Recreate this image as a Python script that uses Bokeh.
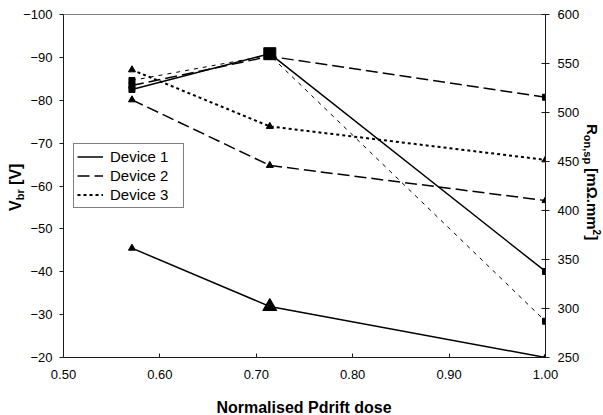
from bokeh.embed import file_html
from bokeh.layouts import column, row
from bokeh.models import (Div, FixedTicker, Legend, LegendItem, LinearAxis,
                          NumeralTickFormatter, Range1d)
from bokeh.plotting import figure
from bokeh.resources import INLINE

# Normalised P-drift dose of the three process splits
dose = [0.571, 0.714, 1.00]

# Breakdown voltage V_br [V] per device (left axis, triangles)
vbr_dev1 = [-45.5, -31.9, -20.0]
vbr_dev2 = [-80.1, -64.8, -56.6]
vbr_dev3 = [-87.1, -73.9, -66.1]

# Specific on-resistance R_on,sp [mOhm.mm2] per device (right axis, squares)
ron_dev1 = [523.5, 560.0, 337.8]
ron_dev2 = [527.6, 557.3, 515.6]
ron_dev3 = [532.7, 558.5, 287.0]

device_names = ["Device 1", "Device 2", "Device 3"]

x_ticks = [0.50, 0.60, 0.70, 0.80, 0.90, 1.00]
vbr_ticks = [-100, -90, -80, -70, -60, -50, -40, -30, -20]
ron_ticks = [250, 300, 350, 400, 450, 500, 550, 600]

# index of the highlighted dose (drawn with enlarged markers for Device 1)
highlight = 1

# ---------------------------------------------------------------- layout
W, H = 603, 415
LEFT_W, RIGHT_W, BOTTOM_H = 18, 19, 25        # title strips around the plot
FRAME_L, FRAME_R, FRAME_T, FRAME_B = 63, 545, 14, 357
X_LO, X_HI = 0.50, 1.00
VBR_BOTTOM, VBR_TOP = -20, -100
RON_BOTTOM, RON_TOP = 250, 600

FONT = "Liberation Sans"

fig_w = W - LEFT_W - RIGHT_W
fig_h = H - BOTTOM_H

p = figure(width=fig_w, height=fig_h,
           x_range=Range1d(X_LO, X_HI),
           y_range=Range1d(VBR_BOTTOM, VBR_TOP),
           output_backend="svg", toolbar_location=None,
           min_border_left=FRAME_L - LEFT_W,
           min_border_right=(W - RIGHT_W) - FRAME_R,
           min_border_top=FRAME_T,
           min_border_bottom=fig_h - FRAME_B)
p.extra_y_ranges = {"ron": Range1d(RON_BOTTOM, RON_TOP)}

p.grid.visible = False
p.outline_line_color = "#808080"
p.outline_line_width = 1
p.background_fill_color = "white"
p.border_fill_color = "white"


def style_axis(ax, tick_in, tick_out, standoff):
    ax.axis_line_color = "#1a1a1a"
    ax.axis_line_width = 1
    ax.major_tick_line_color = "#1a1a1a"
    ax.major_tick_in = tick_in
    ax.major_tick_out = tick_out
    ax.minor_tick_line_color = None
    ax.major_label_text_font = FONT
    ax.major_label_text_font_size = "13px"
    ax.major_label_text_color = "black"
    ax.major_label_standoff = standoff


xa = p.xaxis[0]
xa.ticker = FixedTicker(ticks=x_ticks)
xa.formatter = NumeralTickFormatter(format="0.00")
style_axis(xa, 4, 0, 12)

ya = p.yaxis[0]
ya.ticker = FixedTicker(ticks=vbr_ticks)
style_axis(ya, 0, 4, 7)

ra = LinearAxis(y_range_name="ron", ticker=FixedTicker(ticks=ron_ticks))
style_axis(ra, 4, 4, 8)
p.add_layout(ra, "right")

# ---------------------------------------------------------------- series
line_styles = [
    dict(line_dash="solid", line_width=1.5),
    dict(line_dash="12 5", line_width=1.5),
    dict(line_dash="3 3", line_width=2),
]
ron_styles = [
    dict(line_dash="solid", line_width=1.5),
    dict(line_dash="12 5", line_width=1.5),
    dict(line_dash="4 5", line_width=1),
]

legend_renderers = []
for vals, st in zip([vbr_dev1, vbr_dev2, vbr_dev3], line_styles):
    r = p.line(dose, vals, line_color="black", **st)
    legend_renderers.append(r)
    p.scatter(dose, vals, marker="triangle", size=7, color="black")

for vals, st in zip([ron_dev1, ron_dev2, ron_dev3], ron_styles):
    p.line(dose, vals, line_color="black", y_range_name="ron", **st)
    p.scatter(dose, vals, marker="square", size=6, color="black",
              y_range_name="ron")

# enlarged markers at the highlighted dose for Device 1
p.scatter([dose[highlight]], [vbr_dev1[highlight]], marker="triangle",
          size=14, color="black")
p.scatter([dose[highlight]], [ron_dev1[highlight]], marker="square",
          size=12, color="black", y_range_name="ron")

# ---------------------------------------------------------------- legend
legend = Legend(
    items=[LegendItem(label=n, renderers=[r])
           for n, r in zip(device_names, legend_renderers)],
    location=(10, FRAME_B - 208),
    orientation="vertical",
    border_line_color="black", border_line_width=1,
    background_fill_color="white", background_fill_alpha=1.0,
    padding=3, margin=0, spacing=0,
    glyph_width=26, glyph_height=19,
    label_standoff=7, label_width=70, label_height=19,
    label_text_font=FONT, label_text_font_size="15px",
    label_text_color="black",
)
p.add_layout(legend)

# ---------------------------------------------------------------- titles
# Axis titles with sub/superscripts live in thin HTML strips around the plot.
def title_css(size):
    return (f"position:absolute;left:0;top:0;white-space:nowrap;"
            f"font-family:'{FONT}';font-weight:bold;font-size:{size}px;"
            f"line-height:{size}px;color:black;transform-origin:0 0;")


SUB = "<span style='font-size:11px;position:relative;top:3px'>{}</span>"
SUP = "<span style='font-size:10px;position:relative;top:-6px'>{}</span>"


def strip(width, height, inner):
    return Div(text=(f"<div style='position:relative;width:{width}px;"
                     f"height:{height}px;overflow:visible'>{inner}</div>"),
               width=width, height=height, margin=0, disable_math=True,
               styles={"overflow": "visible", "z-index": "2"})


# left title reads bottom to top; its text starts at (x, y) of the strip
left_html = (f"<span style=\"{title_css(16)}transform:translate(8px,211px) "
             f"rotate(-90deg)\">V{SUB.format('br')} [V]</span>")
# right title reads top to bottom; offset from the strip's left edge
right_x = 600 - (W - RIGHT_W)
right_html = (f"<span style=\"{title_css(15)}"
              f"transform:translate({right_x}px,124px) rotate(90deg)\">"
              f"R{SUB.format('on,sp')} [mΩ.mm{SUP.format('2')}]</span>")
# x title centred under the frame
x_center = (FRAME_L + FRAME_R) / 2
bottom_html = (f"<span style=\"{title_css(16)}"
               f"transform:translate({x_center}px,9.5px) translateX(-50%)\">"
               f"Normalised Pdrift dose</span>")

left_div = strip(LEFT_W, fig_h, left_html)
right_div = strip(RIGHT_W, fig_h, right_html)
bottom_div = strip(W, BOTTOM_H, bottom_html)

page = column(row(left_div, p, right_div, spacing=0), bottom_div, spacing=0)

open("out.html", "w").write(file_html(page, INLINE))
